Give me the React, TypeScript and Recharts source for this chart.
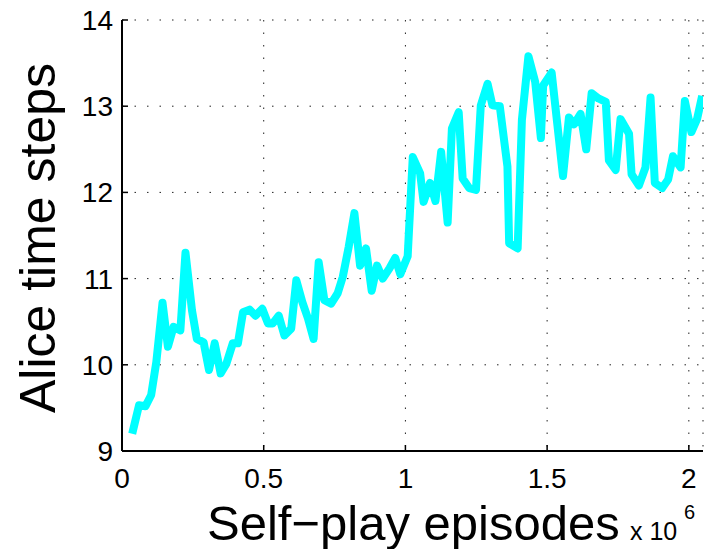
import React from 'react';
import { CartesianGrid, Line, LineChart, XAxis, YAxis } from 'recharts';

// self-play episodes, in millions
const episodes = [
  0.036, 0.06, 0.083, 0.103, 0.121, 0.143, 0.162, 0.182, 0.206, 0.224, 0.247, 0.264, 0.288, 0.307, 0.327, 0.348,
  0.368, 0.391, 0.409, 0.427, 0.45, 0.471, 0.495, 0.515, 0.532, 0.553, 0.573, 0.597, 0.615, 0.636, 0.656, 0.676,
  0.694, 0.714, 0.738, 0.761, 0.779, 0.8, 0.82, 0.84, 0.861, 0.881, 0.9, 0.92, 0.944, 0.964, 0.982, 1.008, 1.026,
  1.052, 1.064, 1.087, 1.106, 1.126, 1.149, 1.164, 1.188, 1.202, 1.225, 1.249, 1.266, 1.29, 1.307, 1.333, 1.36,
  1.366, 1.396, 1.411, 1.434, 1.458, 1.478, 1.486, 1.516, 1.536, 1.556, 1.577, 1.595, 1.618, 1.638, 1.657, 1.681,
  1.707, 1.718, 1.742, 1.759, 1.789, 1.798, 1.824, 1.847, 1.865, 1.88, 1.906, 1.927, 1.944, 1.971, 1.986, 2.009,
  2.029, 2.047,
];

const aliceSteps = [
  9.2, 9.53, 9.52, 9.65, 10.03, 10.72, 10.21, 10.44, 10.4, 11.3, 10.63, 10.3, 10.26, 9.94, 10.25, 9.9,
  10.01, 10.25, 10.25, 10.61, 10.64, 10.57, 10.65, 10.48, 10.48, 10.57, 10.34, 10.42, 10.98, 10.73, 10.54, 10.3,
  11.19, 10.75, 10.71, 10.83, 11.02, 11.37, 11.76, 11.15, 11.35, 10.86, 11.15, 11.0, 11.12, 11.24, 11.05, 11.26, 12.41,
  12.22, 11.89, 12.11, 11.9, 12.47, 11.65, 12.74, 12.93, 12.16, 12.05, 12.03, 13.01, 13.26, 13.01, 13.0, 12.3,
  11.41, 11.35, 12.84, 13.58, 13.28, 12.63, 13.24, 13.39, 12.79, 12.19, 12.87, 12.79, 12.91, 12.5, 13.15, 13.09,
  13.05, 12.37, 12.26, 12.85, 12.68, 12.21, 12.08, 12.29, 13.1, 12.11, 12.05, 12.15, 12.42, 12.29, 13.06, 12.7,
  12.85, 13.12,
];

const xTicks = [0, 0.5, 1, 1.5, 2];
const yTicks = [9, 10, 11, 12, 13, 14];

const data = episodes.map((x, i) => ({ x, y: aliceSteps[i] }));

const font = '"Liberation Sans", Arial, Helvetica, sans-serif';
const tickStyle = { fill: '#000', fontSize: 28, fontFamily: font };
const blank = () => '';

export default function App() {
  return (
    <div style={{ position: 'absolute', left: 0, top: 0, width: 706, height: 549, background: '#fff' }}>
      <LineChart width={706} height={549} data={data} margin={{ top: 20, right: 3, bottom: 0, left: 0 }}>
        <CartesianGrid stroke="#222" strokeDasharray="1.5 11" />
        <XAxis
          dataKey="x"
          type="number"
          domain={[0, 2.05]}
          ticks={xTicks}
          allowDataOverflow
          height={98}
          tickSize={-6}
          tickMargin={23}
          tick={tickStyle}
          tickLine={{ stroke: '#000', strokeWidth: 1.5 }}
          axisLine={{ stroke: '#000', strokeWidth: 2 }}
          interval={0}
        />
        <XAxis
          xAxisId="top"
          orientation="top"
          dataKey="x"
          type="number"
          domain={[0, 2.05]}
          ticks={xTicks}
          allowDataOverflow
          height={0}
          tickSize={-6}
          tickFormatter={blank}
          tickLine={{ stroke: '#000', strokeWidth: 1.5 }}
          axisLine={{ stroke: '#000', strokeWidth: 2 }}
          interval={0}
        />
        <YAxis
          type="number"
          domain={[9, 14]}
          ticks={yTicks}
          allowDataOverflow
          width={122}
          tickSize={-6}
          tickMargin={15}
          tick={tickStyle}
          tickLine={{ stroke: '#000', strokeWidth: 1.5 }}
          axisLine={{ stroke: '#000', strokeWidth: 2 }}
          interval={0}
        />
        <YAxis
          yAxisId="right"
          orientation="right"
          type="number"
          domain={[9, 14]}
          ticks={yTicks}
          allowDataOverflow
          width={0}
          tickSize={-6}
          tickFormatter={blank}
          tickLine={{ stroke: '#000', strokeWidth: 1.5 }}
          axisLine={{ stroke: '#000', strokeWidth: 2 }}
          interval={0}
        />
        <Line
          dataKey="y"
          stroke="#00ffff"
          strokeWidth={8}
          strokeLinejoin="round"
          dot={false}
          activeDot={false}
          isAnimationActive={false}
        />
      </LineChart>
      <svg width={706} height={549} style={{ position: 'absolute', left: 0, top: 0, pointerEvents: 'none' }}>
        <text x={412} y={-10} textAnchor="middle" fontSize={50} fontFamily={font} fill="#000">
          (a)
        </text>
        <text
          transform="translate(55,238) rotate(-90)"
          textAnchor="middle"
          fontSize={50}
          fontFamily={font}
          fill="#000"
        >
          Alice time steps
        </text>
        <text x={207} y={540} fontSize={49} fontFamily={font} fill="#000">
          Self−play episodes
        </text>
        <text x={630} y={540} fontSize={25} fontFamily={font} fill="#000">
          x 10
        </text>
        <text x={684} y={519} fontSize={20} fontFamily={font} fill="#000">
          6
        </text>
      </svg>
    </div>
  );
}
